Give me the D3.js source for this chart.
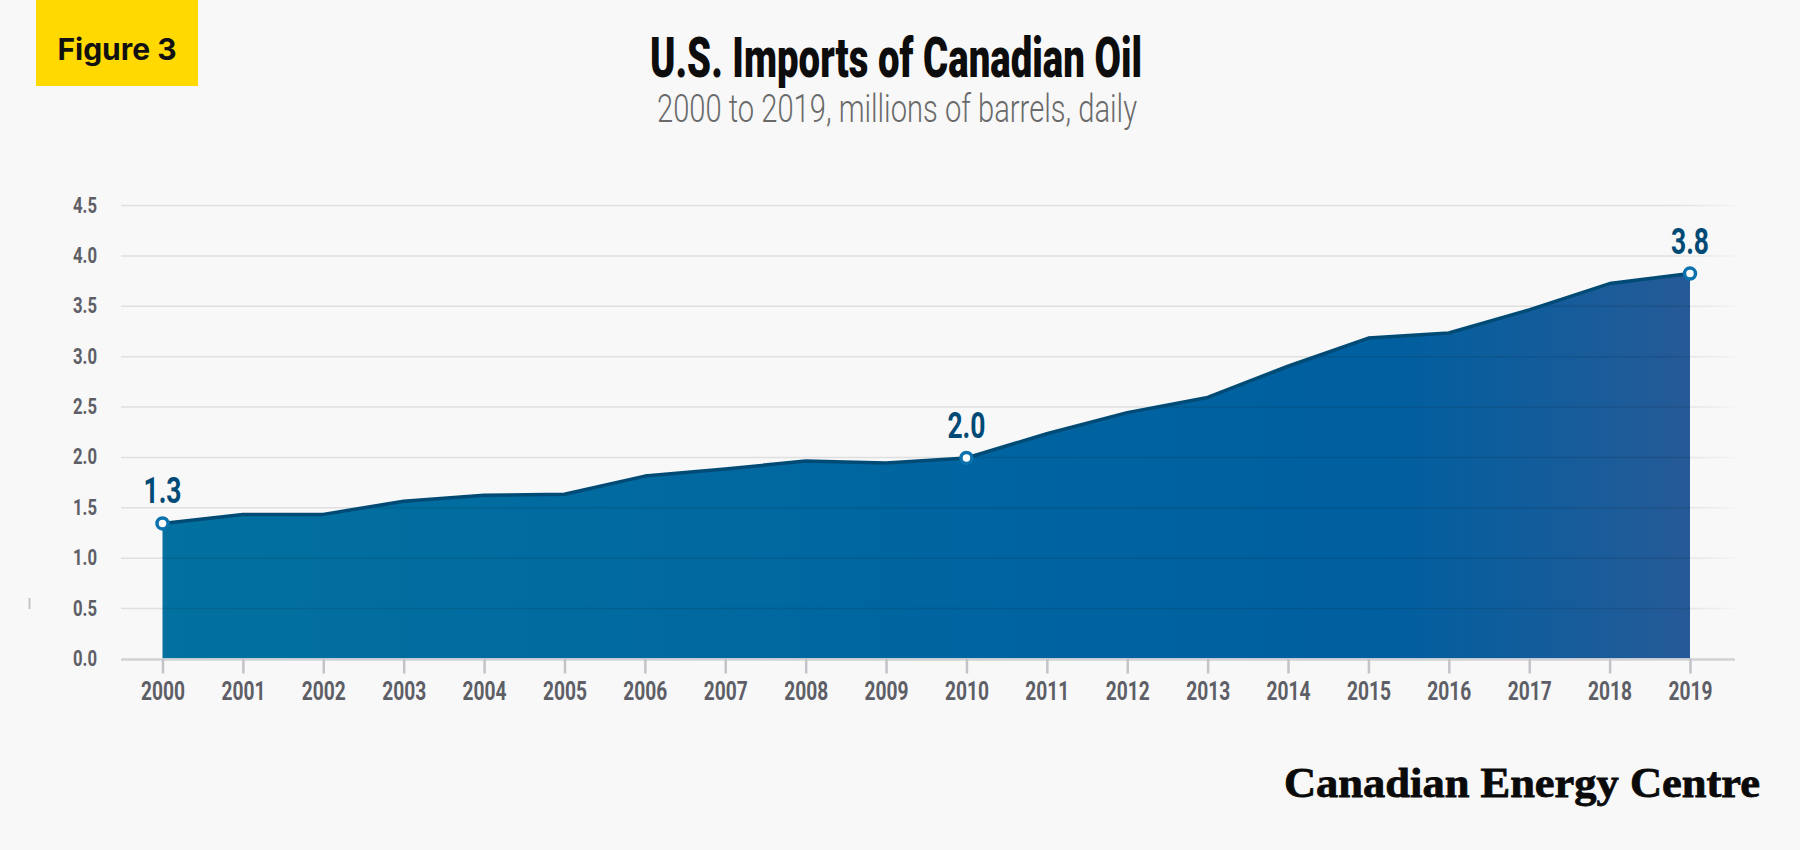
<!DOCTYPE html>
<html>
<head>
<meta charset="utf-8">
<script src="https://cdn.jsdelivr.net/npm/d3@7"></script>
<style>
  html, body { margin: 0; padding: 0; background: #f8f8f8; }
  svg { display: block; }
</style>
</head>
<body>
<svg id="chart" width="1800" height="850"></svg>
<script>
// Data
const years = [2000, 2001, 2002, 2003, 2004, 2005, 2006, 2007, 2008, 2009,
  2010, 2011, 2012, 2013, 2014, 2015, 2016, 2017, 2018, 2019]
const imports = [1.34, 1.43, 1.43, 1.56, 1.62, 1.63, 1.81, 1.88, 1.96, 1.94,
  1.99, 2.23, 2.44, 2.59, 2.90, 3.18, 3.23, 3.46, 3.72, 3.82]
const yTicks = [0, 0.5, 1, 1.5, 2, 2.5, 3, 3.5, 4, 4.5]
const callouts = [2000, 2010, 2019]

const data = years.map((d, i) => ({ year: d, value: imports[i] }))

const svg = d3.select('#chart')
const W = 1800
const H = 850
// no condensed face is installed, so Roboto is squeezed with textLength
const COND = 'Roboto, sans-serif'

// Plot frame
const gridLeft = 121
const gridRight = 1735
const x = d3.scaleLinear().domain([2000, 2019]).range([162.5, 1690])
const y = d3.scaleLinear().domain([0, 4.5]).range([658.5, 205])

svg.append('rect')
  .attr('width', W).attr('height', H)
  .attr('fill', '#f8f8f8')

// Figure tag
svg.append('rect')
  .attr('x', 36).attr('y', 0)
  .attr('width', 162).attr('height', 86)
  .attr('fill', '#ffd900')
svg.append('text')
  .attr('x', 117).attr('y', 60)
  .attr('text-anchor', 'middle')
  .style('font-family', 'Inter, sans-serif')
  .style('font-weight', 700)
  .style('font-size', '30px')
  .attr('fill', '#111')
  .text('Figure 3')

// Title and subtitle
svg.append('text')
  .attr('x', 896).attr('y', 77)
  .attr('text-anchor', 'middle')
  .attr('textLength', 492)
  .attr('lengthAdjust', 'spacingAndGlyphs')
  .style('font-family', COND)
  .style('font-weight', 900)
  .style('font-size', '55px')
  .attr('fill', '#0d0d0d')
  .text('U.S. Imports of Canadian Oil')

svg.append('text')
  .attr('x', 897).attr('y', 122)
  .attr('text-anchor', 'middle')
  .attr('textLength', 480)
  .attr('lengthAdjust', 'spacingAndGlyphs')
  .style('font-family', COND)
  .style('font-weight', 300)
  .style('font-size', '38px')
  .attr('fill', '#6a6a6a')
  .text('2000 to 2019, millions of barrels, daily')

// Area gradient
const defs = svg.append('defs')
defs.append('linearGradient')
  .attr('id', 'area-gradient')
  .attr('gradientUnits', 'userSpaceOnUse')
  .attr('x1', x(2000)).attr('y1', 0)
  .attr('x2', x(2019)).attr('y2', 0)
  .selectAll('stop')
  .data([
    { offset: '0%', color: '#02719f' },
    { offset: '55%', color: '#0064a0' },
    { offset: '80%', color: '#005f9f' },
    { offset: '100%', color: '#255a97' }
  ])
  .enter().append('stop')
  .attr('offset', function (d) { return d.offset })
  .attr('stop-color', function (d) { return d.color })

// gridlines fade out at the right end
defs.append('linearGradient')
  .attr('id', 'grid-fade')
  .attr('gradientUnits', 'userSpaceOnUse')
  .attr('x1', 0).attr('y1', 0)
  .attr('x2', gridRight - gridLeft).attr('y2', 0)
  .selectAll('stop')
  .data([
    { offset: '0%', opacity: 0.1 },
    { offset: '96%', opacity: 0.1 },
    { offset: '100%', opacity: 0.02 }
  ])
  .enter().append('stop')
  .attr('offset', function (d) { return d.offset })
  .attr('stop-color', '#000')
  .attr('stop-opacity', function (d) { return d.opacity })

const area = d3.area()
  .x(function (d) { return x(d.year) })
  .y0(y(0))
  .y1(function (d) { return y(d.value) })

const line = d3.line()
  .x(function (d) { return x(d.year) })
  .y(function (d) { return y(d.value) })

svg.append('path')
  .datum(data)
  .attr('d', area)
  .attr('fill', 'url(#area-gradient)')

// Y axis with gridlines drawn over the area
const yAxis = svg.append('g')
  .attr('class', 'axis y')
  .attr('transform', `translate(${gridLeft}, 0)`)
  .call(d3.axisLeft(y)
    .tickValues(yTicks)
    .tickSize(-(gridRight - gridLeft))
    .tickPadding(24)
    .tickFormat(d3.format('.1f')))
yAxis.select('.domain').remove()
yAxis.selectAll('.tick line')
  .attr('stroke', 'url(#grid-fade)')
  .attr('stroke-width', 1.5)
  .filter(function (d) { return d === 0 }).remove()
yAxis.selectAll('.tick text')
  .attr('fill', '#5e5f66')
  .attr('textLength', 24)
  .attr('lengthAdjust', 'spacingAndGlyphs')
  .style('font-family', COND)
  .style('font-weight', 700)
  .style('font-size', '22px')

// X axis
svg.append('line')
  .attr('x1', gridLeft).attr('x2', gridRight)
  .attr('y1', y(0) + 1).attr('y2', y(0) + 1)
  .attr('stroke', '#d3d3d7')
  .attr('stroke-width', 2.5)

const xAxis = svg.append('g')
  .attr('class', 'axis x')
  .attr('transform', `translate(0, ${y(0)})`)
  .call(d3.axisBottom(x)
    .tickValues(years)
    .tickSize(15)
    .tickPadding(8)
    .tickFormat(d3.format('d')))
xAxis.select('.domain').remove()
xAxis.selectAll('.tick line')
  .attr('stroke', '#c3c3c8')
  .attr('stroke-width', 2.5)
xAxis.selectAll('.tick text')
  .attr('fill', '#5e5f66')
  .attr('textLength', 44)
  .attr('lengthAdjust', 'spacingAndGlyphs')
  .style('font-family', COND)
  .style('font-weight', 700)
  .style('font-size', '25.5px')

// Top line of the area
svg.append('path')
  .datum(data)
  .attr('d', line)
  .attr('fill', 'none')
  .attr('stroke', '#004b76')
  .attr('stroke-width', 3.5)
  .attr('stroke-linejoin', 'round')

// Callout markers and values
const marks = data.filter(function (d) { return callouts.includes(d.year) })
svg.selectAll('circle.mark')
  .data(marks)
  .enter().append('circle')
  .attr('class', 'mark')
  .attr('cx', function (d) { return x(d.year) })
  .attr('cy', function (d) { return y(d.value) })
  .attr('r', 5.5)
  .attr('fill', '#fff')
  .attr('stroke', '#0b72ad')
  .attr('stroke-width', 3.5)

svg.selectAll('text.callout')
  .data(marks)
  .enter().append('text')
  .attr('class', 'callout')
  .attr('x', function (d) { return x(d.year) })
  .attr('y', function (d) { return y(d.value) - 20 })
  .attr('text-anchor', 'middle')
  .attr('textLength', 38)
  .attr('lengthAdjust', 'spacingAndGlyphs')
  .style('font-family', COND)
  .style('font-weight', 700)
  .style('font-size', '36px')
  .attr('fill', '#004a75')
  .text(function (d) { return d3.format('.1f')(d.value) })

// stray mark at the left edge of the original figure
svg.append('line')
  .attr('x1', 29.5).attr('x2', 29.5)
  .attr('y1', 598).attr('y2', 609)
  .attr('stroke', '#c6c6c6')
  .attr('stroke-width', 2)

// Publisher wordmark
svg.append('text')
  .attr('x', 1284).attr('y', 797)
  .attr('textLength', 476)
  .attr('lengthAdjust', 'spacingAndGlyphs')
  .style('font-family', "'Liberation Serif', 'DejaVu Serif', serif")
  .style('font-weight', 700)
  .style('font-size', '42px')
  .attr('fill', '#0a0a0a')
  .attr('stroke', '#0a0a0a')
  .attr('stroke-width', 0.8)
  .text('Canadian Energy Centre')
</script>
</body>
</html>
